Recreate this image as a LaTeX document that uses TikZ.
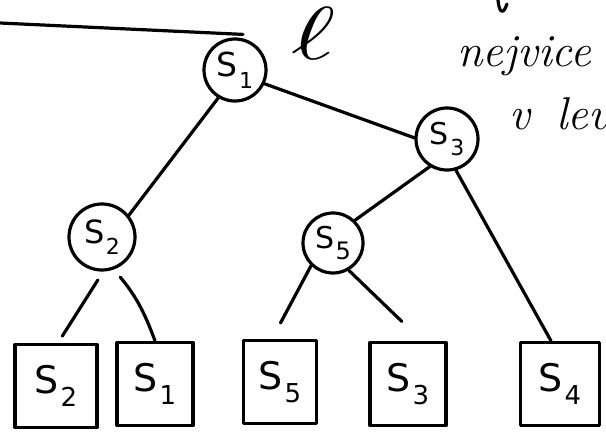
\documentclass[tikz,border=0pt]{standalone}
\usepackage{fontspec}
\usepackage{graphicx}
\newfontfamily\labelfont{DejaVu Sans}
% S with a lowered index: #1 letter size, #2 index size, #3 index
\newcommand\slbl[3]{\fontsize{#1}{#1}\selectfont S\kern1.5pt\raisebox{-0.36em}{\fontsize{#2}{#2}\selectfont #3}}
\begin{document}
\begin{tikzpicture}[x=1pt,y=-1pt,line width=3.2pt,line cap=round,line join=round,
  inode/.style={circle,draw,minimum size=62pt,inner sep=0pt,font=\labelfont},
  leaf/.style={rectangle,draw,minimum width=78pt,minimum height=83pt,inner sep=0pt,font=\labelfont},
  note/.style={font=\fontsize{46}{46}\selectfont\itshape,inner sep=0pt,anchor=base west}]
\useasboundingbox (0,0) rectangle (606,436);
\clip (0,0) rectangle (606,436);

% inner nodes of the tree
\node[inode] (s1) at (235,70) {\slbl{33}{22}{1}};
\node[inode] (s3) at (447,139) {\slbl{30}{22}{3}};
\node[inode,minimum size=66pt] (s2) at (102,237) {\slbl{32}{22}{2}};
\node[inode,minimum size=60pt] (s5) at (333,243) {\slbl{30}{24}{5}};

% leaves
\node[leaf,minimum width=82pt] (b2) at (56,386) {\slbl{38}{26}{2}};
\node[leaf,minimum width=76pt] (b1) at (155,384) {\slbl{38}{26}{1}};
\node[leaf,minimum width=73pt] (b5) at (280,382) {\slbl{38}{26}{5}};
\node[leaf,minimum width=76pt] (b3) at (408,384) {\slbl{38}{26}{3}};
\node[leaf,minimum width=79pt] (b4) at (560,384) {\slbl{38}{26}{4}};

% annotations
\node (ell) at (314,33) {\resizebox{44pt}{52pt}{$\ell$}};
\node[note] (n1) at (456,67) {nejvice n};
\node[note] (n2) at (508,130) {v\hspace{26pt}levém};
\draw (498,0) .. controls (499,12) and (503,16) .. (507,4);

% incoming line from the left
\coordinate (tl) at (0,23);
\draw (tl) -- ([shift={(8pt,3pt)}]s1.north);

% tree edges
\draw (s1.239) -- (s2.39);
\draw (s1.335) -- (s3.178);
\draw (s3.238) -- (s5.46);
\draw (s3.286) -- ([xshift=-9pt]b4.north);
\draw[shorten <=10pt,shorten >=8pt] (s2.272) -- ([xshift=2pt]b2.north);
\draw[shorten <=10pt] (s2.290) to[bend left=10] (b1.north);
\draw[shorten >=18pt] (s5.226) -- ([xshift=-8pt]b5.north);
\draw[shorten >=28pt] (s5.300) -- ([xshift=14pt]b3.north);
\end{tikzpicture}
\end{document}
